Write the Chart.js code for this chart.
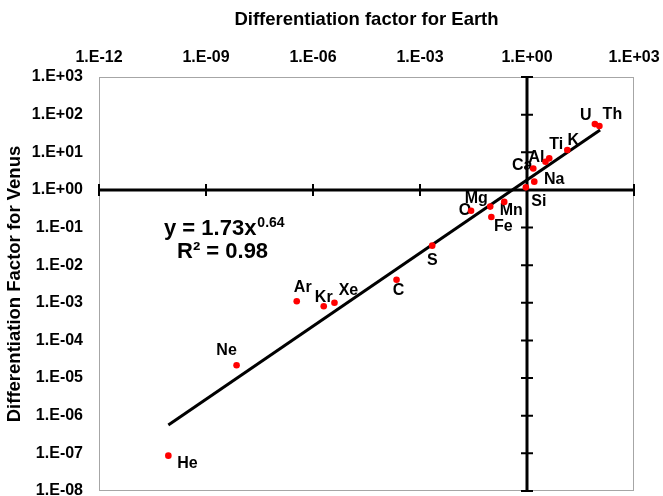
<!DOCTYPE html>
<html>
<head>
<meta charset="utf-8">
<script src="https://cdn.jsdelivr.net/npm/chart.js@4/dist/chart.umd.min.js"></script>
<style>
  body { margin: 0; background: #fff; }
  #wrap { width: 663px; height: 496px; }
</style>
</head>
<body>
<div id="wrap"><canvas id="venus" width="663" height="496"></canvas></div>
<script>
// element differentiation factors
const elements = ['He', 'Ne', 'Ar', 'Kr', 'Xe', 'C', 'S', 'O', 'Mg', 'Fe', 'Mn', 'Si', 'Na', 'Ca', 'Al', 'Ti', 'K', 'U', 'Th'];
const earthFactor = [8.8e-11, 7.2e-9, 3.5e-7, 2.0e-6, 4.0e-6, 2.2e-4, 2.2e-3, 0.027, 0.093, 0.10, 0.23, 0.93, 1.6, 1.5, 3.3, 4.2, 13.5, 80, 107];
const venusFactor = [8.7e-8, 2.2e-5, 1.1e-3, 8.1e-4, 1.0e-3, 4.1e-3, 0.033, 0.28, 0.36, 0.19, 0.48, 1.17, 1.66, 3.7, 5.6, 6.9, 11.5, 56, 50];

// power-law trend line end points
const trendEarth = [8.8e-11, 112];
const trendVenus = [5.7e-7, 39];

const xTickValues = [1e-12, 1e-9, 1e-6, 1e-3, 1, 1e3];
const xTickLabels = ['1.E-12', '1.E-09', '1.E-06', '1.E-03', '1.E+00', '1.E+03'];
const yTickValues = [1e-8, 1e-7, 1e-6, 1e-5, 1e-4, 1e-3, 1e-2, 1e-1, 1, 10, 100, 1000];
const yTickLabels = ['1.E-08', '1.E-07', '1.E-06', '1.E-05', '1.E-04', '1.E-03', '1.E-02', '1.E-01', '1.E+00', '1.E+01', '1.E+02', '1.E+03'];

// label placement relative to each point (px)
const labelOffsets = [[19, 8], [-10, -15], [6, -14], [0, -9], [14, -12], [2, 11], [0, 15], [-6, 0], [-14, -8], [12, 10], [7, 9], [13, 14], [20, -2], [-11, -3], [-9, -4], [7, -14], [6, -9], [-9, -9], [13, -11]];

const FONT = '"Liberation Sans", Arial, sans-serif';

const crossAxes = {
    id: 'crossAxes',
    beforeDatasetsDraw(chart) {
        const { ctx, chartArea: a, scales: { x, y } } = chart;
        ctx.save();
        // plot frame
        ctx.strokeStyle = '#a6a6a6';
        ctx.lineWidth = 1;
        ctx.strokeRect(a.left + 0.5, a.top + 0.5, a.right - a.left - 1, a.bottom - a.top - 1);

        // axes crossing at 1,1
        const x0 = x.getPixelForValue(1);
        const y0 = y.getPixelForValue(1);
        ctx.strokeStyle = '#000';
        ctx.lineWidth = 3;
        ctx.beginPath();
        ctx.moveTo(a.left, y0); ctx.lineTo(a.right, y0);
        ctx.moveTo(x0, a.top); ctx.lineTo(x0, a.bottom);
        ctx.stroke();

        ctx.lineWidth = 2;
        ctx.beginPath();
        yTickValues.forEach(v => {
            const py = y.getPixelForValue(v);
            ctx.moveTo(x0 - 6, py); ctx.lineTo(x0 + 6, py);
        });
        xTickValues.forEach(v => {
            const px = x.getPixelForValue(v);
            ctx.moveTo(px, y0 - 6); ctx.lineTo(px, y0 + 6);
        });
        ctx.stroke();

        // element labels
        const meta = chart.getDatasetMeta(0);
        ctx.fillStyle = '#000';
        ctx.font = 'bold 16px ' + FONT;
        ctx.textAlign = 'center';
        ctx.textBaseline = 'middle';
        meta.data.forEach((pt, i) => {
            ctx.fillText(elements[i], pt.x + labelOffsets[i][0], pt.y + labelOffsets[i][1]);
        });

        // trend equation
        ctx.font = 'bold 22px ' + FONT;
        ctx.textAlign = 'left';
        ctx.textBaseline = 'alphabetic';
        const eq = 'y = 1.73x';
        const ex = 164, ey = 235;
        ctx.fillText(eq, ex, ey);
        const w = ctx.measureText(eq).width;
        ctx.font = 'bold 14px ' + FONT;
        ctx.fillText('0.64', ex + w + 1, ey - 8);
        ctx.font = 'bold 22px ' + FONT;
        ctx.fillText('R\u00b2 = 0.98', 177, 258);
        ctx.restore();
    }
};

new Chart(document.getElementById('venus').getContext('2d'), {
    type: 'scatter',
    data: {
        datasets: [{
            data: earthFactor.map((v, i) => ({ x: v, y: venusFactor[i] })),
            backgroundColor: '#ff0000',
            borderColor: '#ff0000',
            pointRadius: 3.3,
            borderWidth: 0
        }, {
            type: 'line',
            data: trendEarth.map((v, i) => ({ x: v, y: trendVenus[i] })),
            borderColor: '#000',
            borderWidth: 3,
            pointRadius: 0,
            fill: false
        }]
    },
    options: {
        responsive: false,
        animation: false,
        layout: { padding: { left: 0, top: 0, right: 29, bottom: 5 } },
        plugins: { legend: { display: false }, tooltip: { enabled: false } },
        scales: {
            x: {
                type: 'logarithmic',
                position: 'top',
                min: 1e-12,
                max: 1e3,
                afterBuildTicks: s => { s.ticks = xTickValues.map(v => ({ value: v })); },
                afterFit: s => { s.height = 77; s.paddingLeft = 0; s.paddingRight = 0; },
                grid: { display: false, drawTicks: false },
                border: { display: false },
                ticks: {
                    padding: 10,
                    color: '#000',
                    maxRotation: 0,
                    autoSkip: false,
                    font: { family: FONT, size: 16, weight: 'bold' },
                    callback: (v, i) => xTickLabels[i]
                },
                title: {
                    display: true,
                    text: 'Differentiation factor for Earth',
                    color: '#000',
                    padding: { top: 9, bottom: 0 },
                    font: { family: FONT, size: 18.5, weight: 'bold' }
                }
            },
            y: {
                type: 'logarithmic',
                min: 1e-8,
                max: 1e3,
                afterBuildTicks: s => { s.ticks = yTickValues.map(v => ({ value: v })); },
                afterFit: s => { s.width = 99; s.paddingTop = 0; s.paddingBottom = 0; },
                grid: { display: false, drawTicks: false },
                border: { display: false },
                ticks: {
                    padding: 16,
                    color: '#000',
                    autoSkip: false,
                    font: { family: FONT, size: 16, weight: 'bold' },
                    callback: (v, i) => yTickLabels[i]
                },
                title: {
                    display: true,
                    text: 'Differentiation Factor for Venus',
                    color: '#000',
                    padding: { top: 4, bottom: 0 },
                    font: { family: FONT, size: 18.5, weight: 'bold' }
                }
            }
        }
    },
    plugins: [crossAxes]
});
</script>
</body>
</html>
